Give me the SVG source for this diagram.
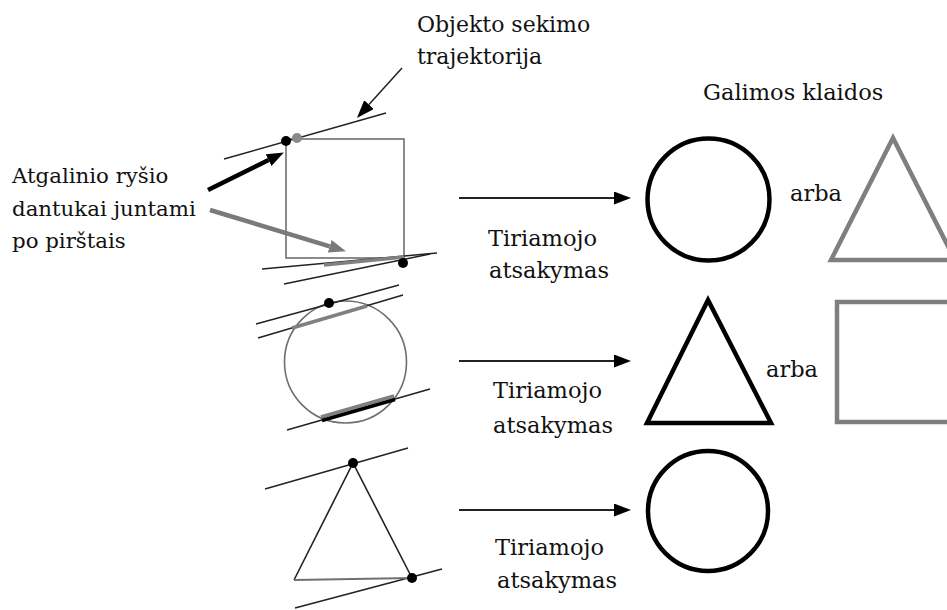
<svg xmlns="http://www.w3.org/2000/svg" width="947" height="610" viewBox="0 0 947 610">
<style>
text{font-family:'DejaVu Serif','Liberation Serif',serif;font-size:22.5px;fill:#111}
.side{font-size:21.3px}
.traj{stroke:#222;stroke-width:1.5;fill:none}
.obj{stroke:#6e6e6e;stroke-width:1.6;fill:none}
.dot{fill:#000}
.gdot{fill:#8a8a8a}
.conn{stroke:#222;stroke-width:1.8;fill:none}
.res{stroke:#000;stroke-width:4.5;fill:none}
.alt{stroke:#7f7f7f;stroke-width:4.5;fill:none}
.gthick{stroke:#808080;stroke-width:3.5;fill:none}
.bthick{stroke:#000;stroke-width:3.5;fill:none}
</style>
<defs>
<marker id="hb" viewBox="0 0 17 13" refX="0" refY="6.5" markerWidth="17" markerHeight="13" markerUnits="userSpaceOnUse" orient="auto"><path d="M0,0 L17,6.5 L0,13 z" fill="#000"/></marker>
<marker id="hg" viewBox="0 0 17 13" refX="0" refY="6.5" markerWidth="17" markerHeight="13" markerUnits="userSpaceOnUse" orient="auto"><path d="M0,0 L17,6.5 L0,13 z" fill="#7a7a7a"/></marker>
<marker id="ht" viewBox="0 0 18 13" refX="0" refY="6.5" markerWidth="18" markerHeight="13" markerUnits="userSpaceOnUse" orient="auto"><path d="M0,0 L18,6.5 L0,13 z" fill="#000"/></marker>
</defs>

<g id="labels">
<text x="417" y="32" style="font-size:22px">Objekto sekimo</text>
<text x="417" y="64" style="font-size:22px">trajektorija</text>
<text class="side" x="12" y="183">Atgalinio ryšio</text>
<text class="side" x="12" y="216">dantukai juntami</text>
<text class="side" x="12" y="248">po pirštais</text>
<text x="703" y="100">Galimos klaidos</text>
</g>

<g id="stimulus1">
<rect class="obj" x="286" y="139" width="118" height="119"/>
<line class="traj" x1="224" y1="159" x2="386" y2="113"/>
<line class="traj" x1="262" y1="269" x2="437" y2="253"/>
<line class="traj" x1="284" y1="284" x2="430" y2="254"/>
<line class="gthick" x1="324" y1="265" x2="404" y2="257"/>
<circle class="dot" cx="286" cy="141" r="5"/>
<circle class="gdot" cx="297" cy="138" r="5"/>
<circle class="dot" cx="403" cy="263" r="5"/>
</g>

<g id="stimulus2">
<circle class="obj" cx="345.5" cy="362" r="61"/>
<line class="traj" x1="256" y1="324" x2="399" y2="285"/>
<line class="traj" x1="258" y1="338" x2="403" y2="295"/>
<line class="gthick" x1="292" y1="328" x2="367" y2="306"/>
<line class="traj" x1="287" y1="430" x2="430" y2="389"/>
<line class="gthick" x1="321" y1="417" x2="394" y2="396"/>
<line class="bthick" x1="322" y1="420.5" x2="395" y2="399.5"/>
<circle class="dot" cx="329" cy="303" r="5"/>
</g>

<g id="stimulus3">
<line class="traj" x1="265" y1="489" x2="408" y2="448"/>
<line class="traj" x1="295" y1="608" x2="442" y2="569"/>
<path d="M294,580 L353,463 L412,578" stroke="#222" stroke-width="1.6" fill="none"/>
<line x1="294" y1="580" x2="412" y2="578" stroke="#707070" stroke-width="2.2"/>
<circle class="dot" cx="353" cy="463" r="5"/>
<circle class="dot" cx="412" cy="578" r="5"/>
</g>

<g id="result1">
<circle class="res" cx="708.5" cy="199.5" r="61"/>
<text x="790" y="201">arba</text>
<path class="alt" d="M831,260 L893,138 L955,260 Z"/>
</g>

<g id="result2">
<path class="res" d="M647,423 L708,300 L771,423 Z"/>
<text x="766" y="377">arba</text>
<rect class="alt" x="837" y="302" width="130" height="120"/>
</g>

<g id="result3">
<circle class="res" cx="708" cy="511" r="60"/>
</g>

<g id="connectors">
<line class="traj" x1="402" y1="68" x2="369" y2="104.6" marker-end="url(#ht)"/>
<line x1="208" y1="190" x2="268.6" y2="160.1" stroke="#000" stroke-width="4.5" marker-end="url(#hb)"/>
<line x1="210" y1="210" x2="329.7" y2="246.3" stroke="#7a7a7a" stroke-width="4.5" marker-end="url(#hg)"/>
<line class="conn" x1="459" y1="198" x2="614" y2="198" marker-end="url(#hb)"/>
<line class="conn" x1="459" y1="361" x2="614" y2="361" marker-end="url(#hb)"/>
<line class="conn" x1="459" y1="510" x2="614" y2="510" marker-end="url(#hb)"/>
<text x="488" y="246">Tiriamojo</text>
<text x="489" y="278">atsakymas</text>
<text x="493" y="398">Tiriamojo</text>
<text x="493" y="433">atsakymas</text>
<text x="495" y="555">Tiriamojo</text>
<text x="497" y="588">atsakymas</text>
</g>
</svg>
